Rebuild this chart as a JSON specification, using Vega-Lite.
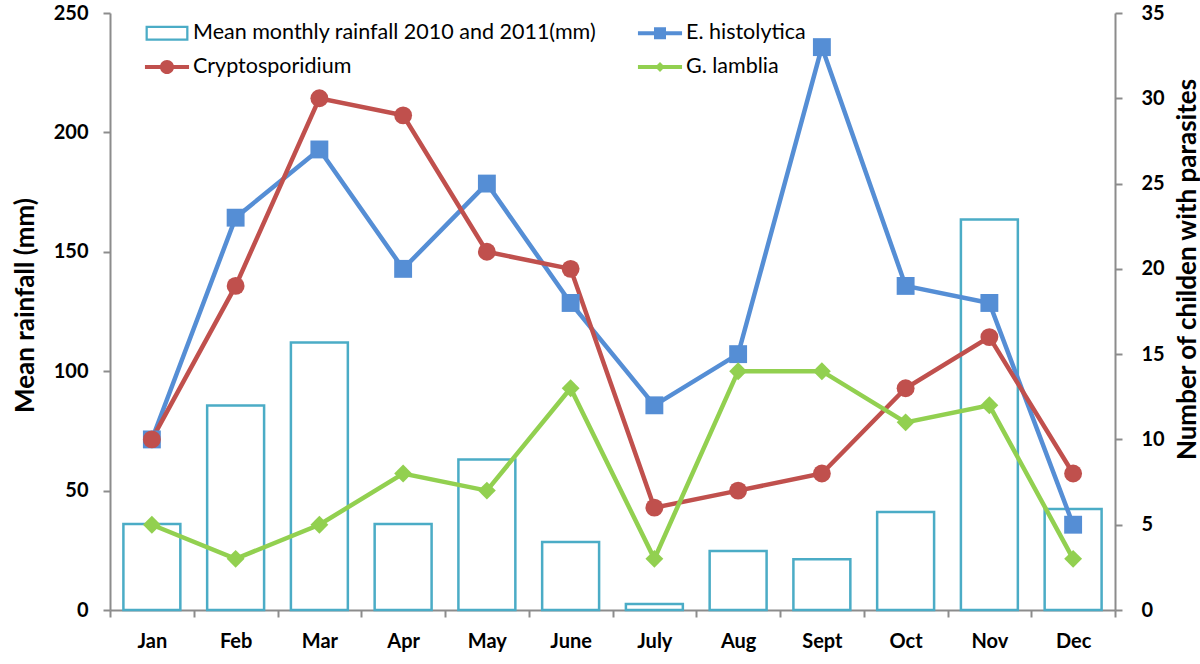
{
  "$schema": "https://vega.github.io/schema/vega-lite/v6.json",
  "width": 1005,
  "height": 597,
  "autosize": {"type": "none"},
  "padding": {"left": 110, "top": 13, "right": 85, "bottom": 54},
  "background": "white",
  "config": {
    "view": {"stroke": null},
    "font": "Lato",
    "axis": {
      "grid": false,
      "domainColor": "#8c8c8c",
      "domainWidth": 2,
      "tickColor": "#8c8c8c",
      "tickWidth": 2,
      "tickSize": 7,
      "labelFont": "Lato",
      "labelFontWeight": "bold",
      "labelColor": "#000000",
      "labelFontSize": 20,
      "titleFont": "Lato",
      "titleFontWeight": "bold",
      "titleColor": "#000000",
      "titleFontSize": 26
    }
  },
  "datasets": {
    "rain": [
      {"month": "Jan", "series": "Mean monthly rainfall 2010 and 2011(mm)", "value": 36},
      {"month": "Feb", "series": "Mean monthly rainfall 2010 and 2011(mm)", "value": 85.6},
      {"month": "Mar", "series": "Mean monthly rainfall 2010 and 2011(mm)", "value": 112},
      {"month": "Apr", "series": "Mean monthly rainfall 2010 and 2011(mm)", "value": 36},
      {"month": "May", "series": "Mean monthly rainfall 2010 and 2011(mm)", "value": 63},
      {"month": "June", "series": "Mean monthly rainfall 2010 and 2011(mm)", "value": 28.5},
      {"month": "July", "series": "Mean monthly rainfall 2010 and 2011(mm)", "value": 2.5},
      {"month": "Aug", "series": "Mean monthly rainfall 2010 and 2011(mm)", "value": 24.7},
      {"month": "Sept", "series": "Mean monthly rainfall 2010 and 2011(mm)", "value": 21.2},
      {"month": "Oct", "series": "Mean monthly rainfall 2010 and 2011(mm)", "value": 41},
      {"month": "Nov", "series": "Mean monthly rainfall 2010 and 2011(mm)", "value": 163.5},
      {"month": "Dec", "series": "Mean monthly rainfall 2010 and 2011(mm)", "value": 42.3}
    ],
    "counts": [
      {"month": "Jan", "series": "E. histolytica", "value": 10},
      {"month": "Feb", "series": "E. histolytica", "value": 23},
      {"month": "Mar", "series": "E. histolytica", "value": 27},
      {"month": "Apr", "series": "E. histolytica", "value": 20},
      {"month": "May", "series": "E. histolytica", "value": 25},
      {"month": "June", "series": "E. histolytica", "value": 18},
      {"month": "July", "series": "E. histolytica", "value": 12},
      {"month": "Aug", "series": "E. histolytica", "value": 15},
      {"month": "Sept", "series": "E. histolytica", "value": 33},
      {"month": "Oct", "series": "E. histolytica", "value": 19},
      {"month": "Nov", "series": "E. histolytica", "value": 18},
      {"month": "Dec", "series": "E. histolytica", "value": 5},
      {"month": "Jan", "series": "Cryptosporidium", "value": 10},
      {"month": "Feb", "series": "Cryptosporidium", "value": 19},
      {"month": "Mar", "series": "Cryptosporidium", "value": 30},
      {"month": "Apr", "series": "Cryptosporidium", "value": 29},
      {"month": "May", "series": "Cryptosporidium", "value": 21},
      {"month": "June", "series": "Cryptosporidium", "value": 20},
      {"month": "July", "series": "Cryptosporidium", "value": 6},
      {"month": "Aug", "series": "Cryptosporidium", "value": 7},
      {"month": "Sept", "series": "Cryptosporidium", "value": 8},
      {"month": "Oct", "series": "Cryptosporidium", "value": 13},
      {"month": "Nov", "series": "Cryptosporidium", "value": 16},
      {"month": "Dec", "series": "Cryptosporidium", "value": 8},
      {"month": "Jan", "series": "G. lamblia", "value": 5},
      {"month": "Feb", "series": "G. lamblia", "value": 3},
      {"month": "Mar", "series": "G. lamblia", "value": 5},
      {"month": "Apr", "series": "G. lamblia", "value": 8},
      {"month": "May", "series": "G. lamblia", "value": 7},
      {"month": "June", "series": "G. lamblia", "value": 13},
      {"month": "July", "series": "G. lamblia", "value": 3},
      {"month": "Aug", "series": "G. lamblia", "value": 14},
      {"month": "Sept", "series": "G. lamblia", "value": 14},
      {"month": "Oct", "series": "G. lamblia", "value": 11},
      {"month": "Nov", "series": "G. lamblia", "value": 12},
      {"month": "Dec", "series": "G. lamblia", "value": 3}
    ]
  },
  "encoding": {
    "x": {
      "field": "month",
      "type": "nominal",
      "sort": ["Jan", "Feb", "Mar", "Apr", "May", "June", "July", "Aug", "Sept", "Oct", "Nov", "Dec"],
      "scale": {"paddingInner": 0, "paddingOuter": 0},
      "axis": {"title": null, "labelAngle": 0, "tickBand": "extent", "labelPadding": 14}
    },
    "color": {
      "field": "series",
      "type": "nominal",
      "scale": {
        "domain": ["Mean monthly rainfall 2010 and 2011(mm)", "E. histolytica", "Cryptosporidium", "G. lamblia"],
        "range": ["#4BACC6", "#558ED5", "#C0504D", "#92D050"]
      },
      "legend": {
        "title": null,
        "orient": "none",
        "legendX": 42,
        "legendY": 5,
        "direction": "horizontal",
        "columns": 2,
        "columnPadding": 40,
        "rowPadding": 8,
        "padding": 0,
        "symbolSize": 900,
        "labelOffset": 11,
        "labelFont": "Lato",
        "labelFontSize": 21.5,
        "labelColor": "#000000",
        "labelLimit": 700,
        "encode": {
          "symbols": {
            "update": {
              "shape": {"signal": "datum.value === 'E. histolytica' ? 'M-1.47,-0.13H1.47V0.13H-1.47Z M-0.4,-0.4H0.4V0.4H-0.4Z' : datum.value === 'Cryptosporidium' ? 'M-1.47,-0.13H1.47V0.13H-1.47Z M-0.47,0A0.47,0.47 0 1 1 0.47,0A0.47,0.47 0 1 1 -0.47,0Z' : datum.value === 'G. lamblia' ? 'M-1.47,-0.13H1.47V0.13H-1.47Z M0,-0.33L0.33,0L0,0.33L-0.33,0Z' : 'M-1.43,-0.5H1.43V0.5H-1.43Z M-1.28,-0.35V0.35H1.28V-0.35Z'"},
              "fill": {"signal": "datum.value === 'E. histolytica' ? '#558ED5' : datum.value === 'Cryptosporidium' ? '#C0504D' : datum.value === 'G. lamblia' ? '#92D050' : '#4BACC6'"},
              "fillOpacity": {"value": 1},
              "opacity": {"value": 1},
              "stroke": {"value": "transparent"},
              "strokeWidth": {"value": 0}
            }
          }
        }
      }
    }
  },
  "layer": [
    {
      "data": {"name": "rain"},
      "mark": {"type": "bar", "filled": false, "strokeWidth": 2.5, "width": {"band": 0.68}},
      "encoding": {
        "y": {
          "field": "value",
          "type": "quantitative",
          "scale": {"domain": [0, 250], "nice": false},
          "axis": {
            "orient": "left",
            "title": "Mean rainfall (mm)",
            "values": [0, 50, 100, 150, 200, 250],
            "labelPadding": 15,
            "titleAngle": -90,
            "titleX": -85,
            "titleY": 292,
            "titleBaseline": "middle",
            "titleAlign": "center"
          }
        }
      }
    },
    {
      "data": {"name": "counts"},
      "encoding": {
        "y": {
          "field": "value",
          "type": "quantitative",
          "scale": {"domain": [0, 35], "nice": false},
          "axis": {
            "orient": "right",
            "title": "Number of childen with parasites",
            "values": [0, 5, 10, 15, 20, 25, 30, 35],
            "labelPadding": 19,
            "titleAngle": -90,
            "titleX": 72,
            "titleY": 256,
            "titleBaseline": "middle",
            "titleAlign": "center"
          }
        }
      },
      "layer": [
        {"mark": {"type": "line", "strokeWidth": 4.5}},
        {
          "mark": {"type": "point", "filled": true, "opacity": 1, "size": 320},
          "encoding": {
            "shape": {
              "field": "series",
              "type": "nominal",
              "scale": {"domain": ["E. histolytica", "Cryptosporidium", "G. lamblia"], "range": ["square", "circle", "diamond"]},
              "legend": null
            }
          }
        }
      ]
    }
  ],
  "resolve": {"scale": {"y": "independent"}}
}
